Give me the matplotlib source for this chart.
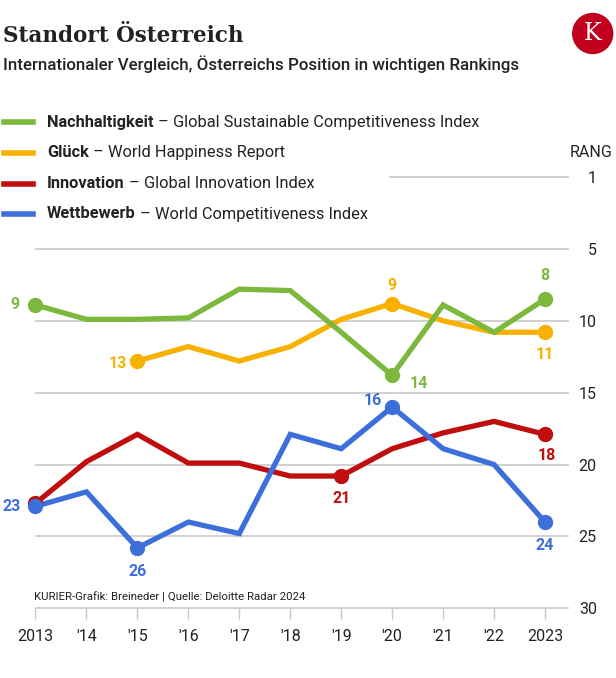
import matplotlib
matplotlib.use("Agg")
import matplotlib.pyplot as plt
from matplotlib.patches import Circle

plt.rcParams['font.family'] = ['Roboto', 'DejaVu Sans']

years = list(range(2013, 2024))
year_labels = ["2013", "'14", "'15", "'16", "'17", "'18", "'19", "'20", "'21", "'22", "2023"]

# ranks (smaller = better)
nachhaltigkeit = [8.9, 9.9, 9.9, 9.8, 7.8, 7.9, 10.8, 13.8, 8.9, 10.8, 8.5]
glueck_years = years[2:]
glueck = [12.8, 11.8, 12.8, 11.8, 9.9, 8.8, 10.0, 10.8, 10.8]
innovation = [22.7, 19.8, 17.9, 19.9, 19.9, 20.8, 20.8, 18.9, 17.8, 17.0, 17.9]
wettbewerb = [22.9, 21.9, 25.8, 24.0, 24.8, 17.9, 18.9, 16.0, 18.9, 20.0, 24.0]

rank_ticks = [0, 5, 10, 15, 20, 25, 30]
rank_labels = ["1", "5", "10", "15", "20", "25", "30"]

green = "#7cb83e"
yellow = "#f8b100"
red = "#c00d0d"
blue = "#3d6fdb"
dark = "#222222"
grid = "#c8c8c8"

W, H = 616, 678
fig = plt.figure(figsize=(W / 100, H / 100), dpi=100)
fig.patch.set_facecolor('white')

def fx(px):
    return px / W

def fy(py):
    return 1 - py / H

ax = fig.add_axes([fx(35.5), fy(608.3), fx(567.7) - fx(35.5), fy(177) - fy(608.3)])
ax.set_xlim(2013, 2023 + (567.7 - 545) / 50.95)
ax.set_ylim(30, 0)
for s in ax.spines.values():
    s.set_visible(False)

# gridlines
for r in rank_ticks:
    if r == 0:
        ax.axhline(r, xmin=(390 - 35.5) / (567.7 - 35.5), xmax=1, color=grid, lw=1.2, zorder=0, clip_on=False)
    else:
        ax.axhline(r, color=grid, lw=1.2, zorder=0, clip_on=False)

ax.set_xticks(years)
ax.set_xticklabels(year_labels)
ax.tick_params(axis='x', length=8, width=1, color=grid, pad=7, labelsize=11.5, labelcolor=dark)
ax.yaxis.tick_right()
ax.set_yticks(rank_ticks)
ax.set_yticklabels(rank_labels)
ax.tick_params(axis='y', length=0, pad=21, labelsize=11.5, labelcolor=dark)
for t in ax.get_yticklabels():
    t.set_horizontalalignment('right')

lw = 3.8
ms = 10
ax.plot(years, nachhaltigkeit, color=green, lw=lw, solid_joinstyle='miter', zorder=3, clip_on=False)
ax.plot(glueck_years, glueck, color=yellow, lw=lw, solid_joinstyle='miter', zorder=2, clip_on=False)
ax.plot(years, innovation, color=red, lw=lw, solid_joinstyle='miter', zorder=2, clip_on=False)
ax.plot(years, wettbewerb, color=blue, lw=lw, solid_joinstyle='miter', zorder=3, clip_on=False)

# labelled points: (year, value, colour, text, dx, dy)
labels = [
    (2013, nachhaltigkeit[0], green, "9", -15, 0),
    (2020, nachhaltigkeit[7], green, "14", 19, -6),
    (2023, nachhaltigkeit[10], green, "8", 0, 17),
    (2015, glueck[0], yellow, "13", -14, -2),
    (2020, glueck[5], yellow, "9", 0, 13),
    (2023, glueck[8], yellow, "11", 0, -16),
    (2013, innovation[0], red, None, 0, 0),
    (2019, innovation[6], red, "21", 0, -16),
    (2023, innovation[10], red, "18", 1, -15.5),
    (2013, wettbewerb[0], blue, "23", -17.5, 0),
    (2015, wettbewerb[2], blue, "26", 0, -17),
    (2020, wettbewerb[7], blue, "16", -14, 4.5),
    (2023, wettbewerb[10], blue, "24", 0, -17),
]
for x, y, c, txt, dx, dy in labels:
    ax.plot([x], [y], 'o', color=c, ms=ms, zorder=4, clip_on=False)
    if txt:
        ax.annotate(txt, (x, y), xytext=(dx, dy), textcoords='offset points',
                    ha='center', va='center', color=c, fontsize=11.5, fontweight='bold')

# title, subtitle
fig.text(fx(3), fy(36), "Standort Österreich", family='DejaVu Serif', fontweight='bold',
         fontsize=15.5, color=dark, va='center', ha='left')
fig.text(fx(3), fy(64), "Internationaler Vergleich, Österreichs Position in wichtigen Rankings",
         fontsize=12.2, fontweight='medium', color=dark, va='center', ha='left')

# logo
fig.patches.append(Circle((592.7 / 100, (H - 33.5) / 100), 0.207, transform=fig.dpi_scale_trans,
                          facecolor="#c0001c", edgecolor='none'))
fig.text(fx(592.7), fy(34), "K", family='DejaVu Serif', fontsize=17, color='white',
         ha='center', va='center')

# legend
legend = [
    (green, "Nachhaltigkeit", " – Global Sustainable Competitiveness Index", 122),
    (yellow, "Glück", " – World Happiness Report", 152.5),
    (red, "Innovation", " – Global Innovation Index", 183.5),
    (blue, "Wettbewerb", " – World Competitiveness Index", 214),
]
fig.canvas.draw()
renderer = fig.canvas.get_renderer()
for c, bold, rest, py in legend:
    fig.add_artist(plt.Line2D([fx(4), fx(33)], [fy(py), fy(py)], color=c, lw=4, transform=fig.transFigure))
    t = fig.text(fx(47), fy(py), bold, fontsize=11.8, fontweight='bold', color=dark, va='center', ha='left')
    bb = t.get_window_extent(renderer)
    fig.text(bb.x1 / W, fy(py), rest, fontsize=11.8, color=dark, va='center', ha='left')

fig.text(fx(612), fy(152.5), "RANG", fontsize=11.5, color=dark, va='center', ha='right')
fig.text(fx(34.5), fy(597), "KURIER-Grafik: Breineder | Quelle: Deloitte Radar 2024",
         fontsize=8.2, color=dark, va='center', ha='left')

fig.savefig("out.png", dpi=100, facecolor='white')
